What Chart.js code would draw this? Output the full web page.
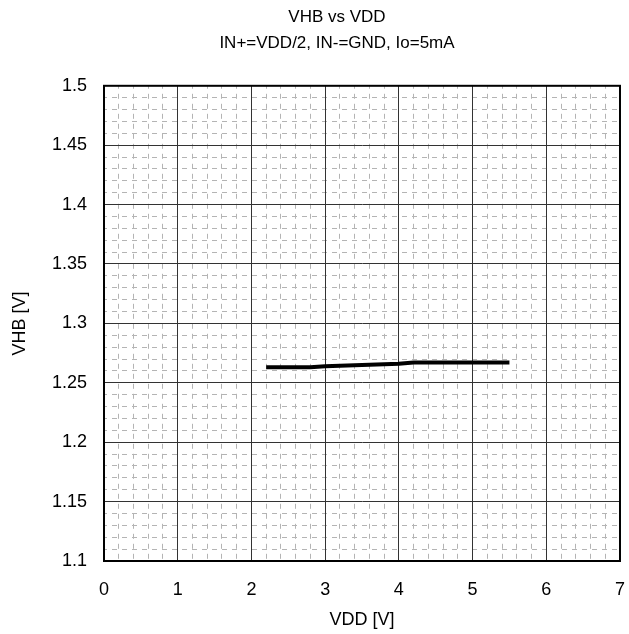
<!DOCTYPE html>
<html>
<head>
<meta charset="utf-8">
<script src="https://cdn.jsdelivr.net/npm/chart.js@4/dist/chart.umd.min.js"></script>
<style>
  html, body { margin: 0; padding: 0; background: #fff; }
  #wrap { width: 629px; height: 634px; }
</style>
</head>
<body>
<div id="wrap"><canvas id="chart" width="629" height="634"></canvas></div>
<script>
// data
const vdd = [2.2, 2.5, 2.8, 3.0, 3.5, 4.0, 4.2, 4.5, 5.0, 5.5];
const vhb = [1.263, 1.263, 1.263, 1.264, 1.265, 1.266, 1.267, 1.267, 1.267, 1.267];

const xTicks = [0, 1, 2, 3, 4, 5, 6, 7];
const yTicks = [1.1, 1.15, 1.2, 1.25, 1.3, 1.35, 1.4, 1.45, 1.5];

const FONT = "'Liberation Sans', Arial, sans-serif";

// frame around the plot area
const framePlugin = {
    id: 'frame',
    afterDraw(chart) {
        const { ctx, chartArea: a } = chart;
        ctx.save();
        ctx.strokeStyle = '#000';
        ctx.lineWidth = 2;
        ctx.strokeRect(a.left, a.top, a.right - a.left, a.bottom - a.top);
        ctx.restore();
    }
};

const isMajor = (v, step) => Math.abs(v / step - Math.round(v / step)) < 1e-6;

new Chart(document.getElementById('chart'), {
    type: 'line',
    data: {
        datasets: [{
            data: vdd.map((x, i) => ({ x: x, y: vhb[i] })),
            borderColor: '#000',
            borderWidth: 4,
            pointRadius: 0,
            tension: 0,
            fill: false
        }]
    },
    options: {
        responsive: false,
        animation: false,
        // left padding shifts the centred titles like in the original
        layout: { autoPadding: false, padding: { left: 52, right: 7, top: 0, bottom: 0 } },
        plugins: {
            legend: { display: false },
            tooltip: { enabled: false },
            title: {
                display: true,
                text: 'VHB vs VDD',
                color: '#000',
                font: { family: FONT, size: 17, weight: 'normal' },
                padding: { top: 7, bottom: 6 }
            },
            subtitle: {
                display: true,
                text: 'IN+=VDD/2, IN-=GND, Io=5mA',
                color: '#000',
                font: { family: FONT, size: 17, weight: 'normal' },
                padding: { top: 0, bottom: 32 }
            }
        },
        scales: {
            xMinor: {
                type: 'linear', position: 'bottom', min: 0, max: 7,
                ticks: { display: false, stepSize: 0.2 },
                grid: {
                    drawTicks: false,
                    color: c => isMajor(c.tick.value, 1) ? 'rgba(0,0,0,0)' : '#b4b4b4',
                    lineWidth: 1
                },
                border: { display: false, dash: [5, 5], dashOffset: 2 },
                afterFit(s) { s.height = 0; }
            },
            yMinor: {
                type: 'linear', position: 'left', min: 1.1, max: 1.5,
                ticks: { display: false, stepSize: 0.01 },
                grid: {
                    drawTicks: false,
                    color: c => isMajor(c.tick.value - 1.1, 0.05) ? 'rgba(0,0,0,0)' : '#b4b4b4',
                    lineWidth: 1
                },
                border: { display: false, dash: [5, 5], dashOffset: 2 },
                afterFit(s) { s.width = 0; }
            },
            x: {
                type: 'linear', position: 'bottom', min: 0, max: 7,
                afterBuildTicks(s) { s.ticks = xTicks.map(v => ({ value: v })); },
                ticks: {
                    color: '#000',
                    font: { family: FONT, size: 18 },
                    padding: 4,
                    callback: v => String(v)
                },
                grid: { color: '#333', lineWidth: 1, drawTicks: true, tickLength: 14, tickColor: 'rgba(0,0,0,0)' },
                border: { color: '#000', width: 2 },
                title: {
                    display: true,
                    text: 'VDD [V]',
                    color: '#000',
                    font: { family: FONT, size: 18 },
                    padding: { top: 0, bottom: 3 }
                },
                afterFit(s) { s.height = 73; }
            },
            y: {
                type: 'linear', position: 'left', min: 1.1, max: 1.5,
                afterBuildTicks(s) { s.ticks = yTicks.map(v => ({ value: v })); },
                ticks: {
                    color: '#000',
                    font: { family: FONT, size: 18 },
                    padding: 17,
                    callback: v => String(parseFloat(v.toFixed(2)))
                },
                grid: { color: '#333', lineWidth: 1, drawTicks: false },
                border: { color: '#000', width: 2 },
                title: {
                    display: true,
                    text: 'VHB [V]',
                    color: '#000',
                    font: { family: FONT, size: 18 },
                    padding: { top: -43, bottom: 0 }
                },
                afterFit(s) { s.width = 52; }
            }
        }
    },
    plugins: [framePlugin]
});
</script>
</body>
</html>
